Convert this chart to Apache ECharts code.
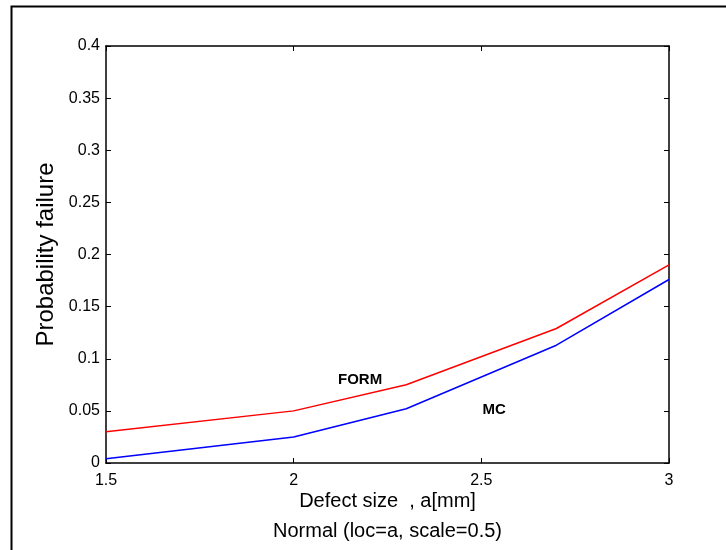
<!DOCTYPE html>
<html>
<head>
<meta charset="utf-8">
<script src="https://cdn.jsdelivr.net/npm/echarts@6/dist/echarts.min.js"></script>
<style>
html,body{margin:0;padding:0;background:#fff;}
#chart{width:726px;height:550px;}
</style>
</head>
<body>
<div id="chart"></div>
<script>
var defectSize = [1.5, 2, 2.3, 2.7, 3];
var formValues = [0.030, 0.050, 0.075, 0.129, 0.190];
var mcValues = [0.004, 0.025, 0.052, 0.113, 0.176];
var annotationNames = ['FORM', 'MC'];
var annotationX = [2.177, 2.534];
var annotationY = [0.0796, 0.0508];

var chart = echarts.init(document.getElementById('chart'), null, {renderer: 'canvas'});
var font = 'Liberation Sans, Arial, sans-serif';

function pairs(xs, ys) { return xs.map(function (x, i) { return [x, ys[i]]; }); }

var xBase = {
  type: 'value', min: 1.5, max: 3, interval: 0.5,
  splitLine: {show: false},
  axisLine: {show: true, onZero: false, lineStyle: {color: '#000', width: 1.5}},
  axisTick: {show: true, inside: true, length: 5, lineStyle: {color: '#000'}}
};
var yBase = {
  type: 'value', min: 0, max: 0.4, interval: 0.05,
  splitLine: {show: false},
  axisLine: {show: true, onZero: false, lineStyle: {color: '#000', width: 1.5}},
  axisTick: {show: true, inside: true, length: 5, lineStyle: {color: '#000'}}
};

chart.setOption({
  animation: false,
  backgroundColor: '#fff',
  grid: {left: 106, right: 57, top: 46, bottom: 87, containLabel: false, outerBoundsMode: 'none'},
  xAxis: [
    Object.assign({}, xBase, {
      position: 'bottom',
      axisLabel: {color: '#000', fontFamily: font, fontSize: 16, margin: 10},
      name: 'Defect size  , a[mm]\nNormal (loc=a, scale=0.5)',
      nameLocation: 'middle', nameGap: 23, nameMoveOverlap: false,
      nameTextStyle: {color: '#000', fontFamily: font, fontSize: 20, lineHeight: 30, verticalAlign: 'top'}
    }),
    Object.assign({}, xBase, {position: 'top', axisLabel: {show: false}})
  ],
  yAxis: [
    Object.assign({}, yBase, {
      position: 'left',
      axisLabel: {color: '#000', fontFamily: font, fontSize: 16, margin: 6},
      name: 'Probability failure', nameLocation: 'middle', nameGap: 48, nameMoveOverlap: false,
      nameTextStyle: {color: '#000', fontFamily: font, fontSize: 24}
    }),
    Object.assign({}, yBase, {position: 'right', axisLabel: {show: false}})
  ],
  graphic: [{
    type: 'rect', left: 9, top: 4, silent: true,
    shape: {width: 740, height: 560},
    style: {fill: 'none', stroke: '#000', lineWidth: 2}
  }],
  series: [
    {
      name: 'FORM', type: 'line', data: pairs(defectSize, formValues),
      symbol: 'none', lineStyle: {color: '#ff0000', width: 1.5},
      markPoint: {
        symbol: 'circle', symbolSize: 0,
        label: {show: true, formatter: '{b}', color: '#000', fontFamily: font, fontSize: 15, fontWeight: 'bold', position: 'inside'},
        data: annotationNames.map(function (n, i) { return {name: n, coord: [annotationX[i], annotationY[i]]}; })
      }
    },
    {
      name: 'MC', type: 'line', data: pairs(defectSize, mcValues),
      symbol: 'none', lineStyle: {color: '#0000ff', width: 1.5}
    }
  ]
});
</script>
</body>
</html>
